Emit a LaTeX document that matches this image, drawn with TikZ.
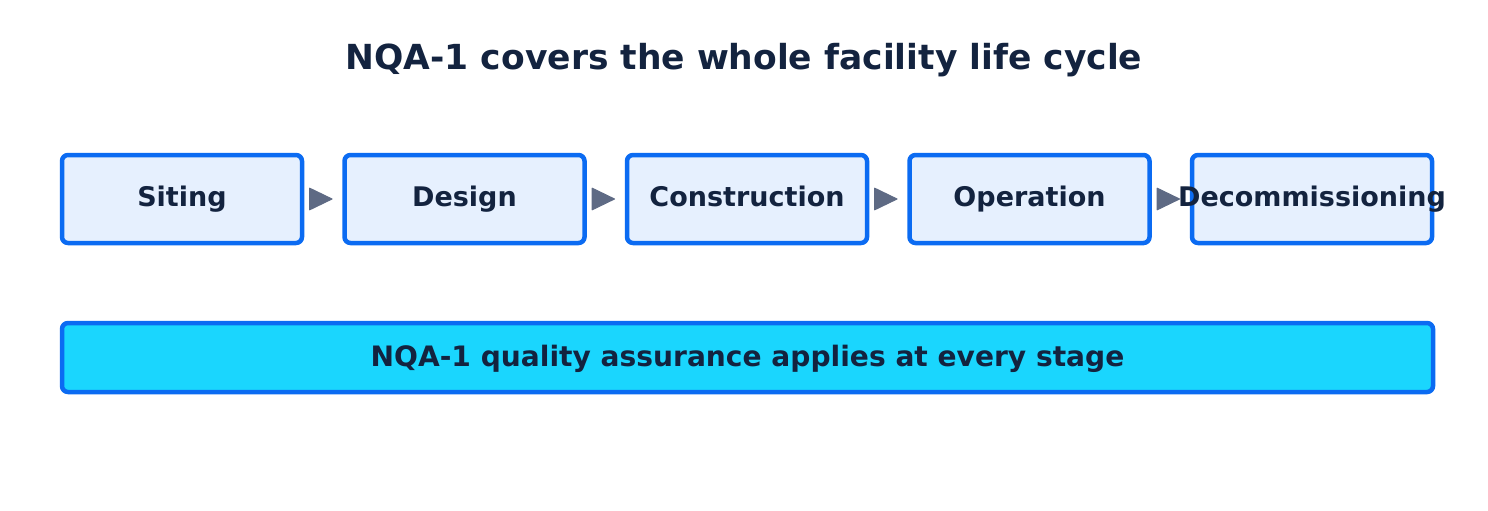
\documentclass[tikz,border=0pt]{standalone}
\usepackage{fontspec}
\setmainfont{DejaVu Sans}
\usetikzlibrary{arrows.meta}
\definecolor{boxfill}{HTML}{E6F0FE}
\definecolor{boxline}{HTML}{0B6BF2}
\definecolor{txt}{HTML}{13233F}
\definecolor{barfill}{HTML}{1AD6FE}
\definecolor{arr}{HTML}{5E6A84}
\tikzset{
  stage/.style={draw=boxline, fill=boxfill, line width=4.5pt, rounded corners=6pt,
    minimum width=240pt, minimum height=88pt, outer sep=0pt, inner sep=0pt,
    text height=20pt, text depth=5pt,
    text=txt, font=\fontsize{27}{30}\selectfont\bfseries},
  bar/.style={draw=boxline, fill=barfill, line width=4.5pt, rounded corners=6pt,
    minimum width=1371pt, minimum height=69pt, outer sep=0pt, inner sep=0pt,
    text height=21pt, text depth=4pt,
    text=txt, font=\fontsize{28.1}{32}\selectfont\bfseries},
  flow/.style={draw=arr, line width=1pt, -{Triangle[length=24pt,width=23pt,round]},
    shorten <=10pt, shorten >=12pt},
  titletext/.style={text=txt, font=\fontsize{34.5}{40}\selectfont\bfseries}
}
\begin{document}
\begin{tikzpicture}[x=1pt,y=1pt]
\useasboundingbox (0,0) rectangle (1488,-511);
\node[titletext, anchor=base] (title) at (744,-70) {NQA-1 covers the whole facility life cycle};
\node[stage] (s1) at (182,-199) {Siting};
\node[stage] (s2) at (464.5,-199) {Design};
\node[stage] (s3) at (747,-199) {Construction};
\node[stage] (s4) at (1029.5,-199) {Operation};
\node[stage] (s5) at (1312,-199) {\makebox[0pt]{Decommissioning}};
\draw[flow] (s1) -- (s2);
\draw[flow] (s2) -- (s3);
\draw[flow] (s3) -- (s4);
\draw[flow] (s4) -- (s5);
\node[bar] (qa) at (747.5,-357.5) {NQA-1 quality assurance applies at every stage};
\end{tikzpicture}
\end{document}
